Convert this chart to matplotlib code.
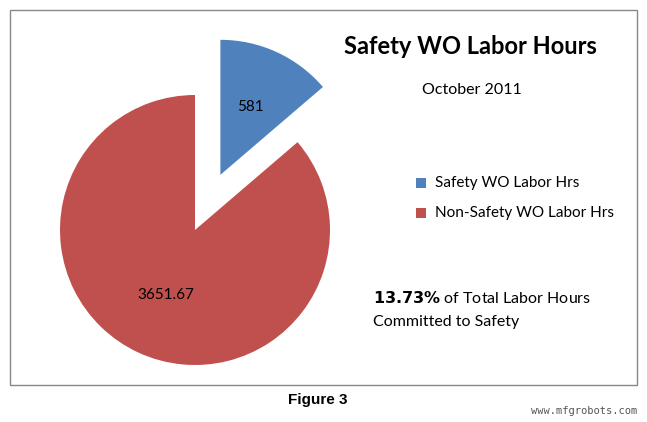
import matplotlib
matplotlib.use("Agg")
import matplotlib.pyplot as plt
from matplotlib.patches import Rectangle

categories = ["Safety WO Labor Hrs", "Non-Safety WO Labor Hrs"]
values = [581, 3651.67]
value_labels = ["581", "3651.67"]
colors = ["#4F81BD", "#C0504D"]

W, H = 647, 422
fig = plt.figure(figsize=(W/100, H/100), dpi=100)
plt.rcParams['font.family'] = ['Lato', 'DejaVu Sans']

# frame
fig.patches.append(Rectangle((10/W, 1-385/H), 627/W, 375/H, transform=fig.transFigure,
                             fill=False, edgecolor="#888888", lw=1))

ax = fig.add_axes([60/W, 1-365/H, 270/W, 270/H])
wedges, _ = ax.pie(values, colors=colors, startangle=90, counterclock=False,
                   explode=[0.45, 0], radius=1.0)
ax.set_xlim(-1, 1); ax.set_ylim(-1, 1); ax.set_aspect('equal'); ax.axis('off')

def px(x, y):
    return x/W, 1-y/H

fig.text(*px(250, 107), value_labels[0], fontsize=11, ha='center', va='center')
fig.text(*px(166, 295), value_labels[1], fontsize=11, ha='center', va='center')

fig.text(*px(470, 47), "Safety WO Labor Hours", fontsize=17, fontweight='bold', ha='center', va='center')
fig.text(*px(472, 90), "October 2011", fontsize=11.5, ha='center', va='center')

for i, (c, lab) in enumerate(zip(colors, categories)):
    y = 183 + i*30
    fig.patches.append(Rectangle((416/W, 1-(y+5)/H), 10/W, 10/H, transform=fig.transFigure,
                                 facecolor=c, edgecolor='none'))
    fig.text(*px(435, y), lab, fontsize=11, ha='left', va='center')

pct = values[0]/sum(values)*100
fig.text(*px(373, 298), f"$\\bf{{{pct:.2f}\\%}}$ of Total Labor Hours", fontsize=11.5, ha='left', va='center')
fig.text(*px(373, 322), "Committed to Safety", fontsize=11.5, ha='left', va='center')

fig.text(*px(318, 400), "Figure 3", fontsize=11, fontweight='bold', family='Liberation Sans', ha='center', va='center')
fig.text(*px(637, 411), "www.mfgrobots.com", fontsize=7.5, family='DejaVu Sans Mono', color='#555555', ha='right', va='center')

fig.savefig("out.png", dpi=100)
